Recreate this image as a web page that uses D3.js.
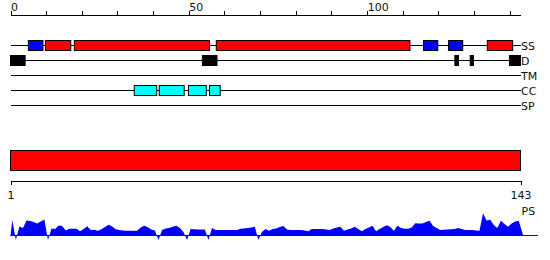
<!DOCTYPE html>
<html>
<head>
<meta charset="utf-8">
<script src="https://cdn.jsdelivr.net/npm/d3@7"></script>
<style>
  body { margin: 0; background: #fff; }
  svg { display: block; font-family: "DejaVu Sans", sans-serif; }
  .lbl { font-size: 11px; fill: #111; }
  .axis text { font-size: 11px; fill: #111; font-family: "DejaVu Sans", sans-serif; }
  .axis path, .axis line { stroke: #000; shape-rendering: crispEdges; }
</style>
</head>
<body>
<svg id="chart" width="550" height="260"></svg>
<script>
const seqLen = 143;
const topTicks = [0, 50, 100];
const trackNames = ['SS', 'D', 'TM', 'CC', 'SP'];

// [start, end, colour] in sequence units
const ssBoxes = [
  [5, 9.1, 'blue'], [9.8, 16.9, 'red'], [17.9, 55.8, 'red'], [57.7, 112, 'red'],
  [115.8, 119.8, 'blue'], [122.8, 126.8, 'blue'], [133.7, 140.8, 'red']
];
const disBoxes = [[0, 4.1], [53.8, 57.9], [124.6, 125.6], [128.9, 129.8], [139.9, 143]];
const tmBoxes = [];
const ccBoxes = [[34.7, 41], [41.7, 48.7], [49.9, 54.9], [55.8, 58.8]];
const spBoxes = [];

const psLabel = 'PS';
const psValues = [
  16, -4, 9.5, 8, 15.5, 15, 14, 12.5, 14.5, 16.5,
  -4, 7.5, 7, 10.5, 10, 5.5, 7.3, 7.3, 7.3, 4.7,
  7, 9.7, 6, 6.3, 5.3, 6.7, 9, 11.3, 9.5, 6.7,
  6, 5.5, 5.3, 5.3, 5.3, 5.3, 8.5, 10.3, 8.7, 6.5,
  5.5, -4, 6, 7.5, 8, 9.3, 10.3, 8, 4, -4,
  7, 6.7, 6.6, 6.6, 6.5, -4, 8, 6, 6, 6,
  6, 6, 6, 6, 7.3, 7.5, 8, 8.5, 9.3, -4,
  4, 7, 5.3, 7, 7.5, 9, 10, 6.5, 6, 6,
  6, 6, 5.5, 4.7, 7, 7, 7, 7, 6.5, 6,
  7.5, 8.5, 9.3, 5.3, 6.5, 7.5, 9.3, 7, 4.7, 7,
  8.5, 10.3, 4.7, 7, 9, 10.7, 9, 5.3, 10.3, 8,
  7.3, 7.3, 8.5, 12.7, 12.5, 12.5, 14, 15.3, 10, 8,
  6, 6.3, 6.5, 6.7, 7, 8, 7, 6, 6, 6,
  5.5, 5.3, 22.7, 15.5, 16.3, 11, 8, 15.3, 12, 9.3,
  12.5, 14.5, 15.3
];

const width = 550;
const svg = d3.select('#chart');

const x = d3.scaleLinear([0, seqLen], [10.5, 520.5]);

// top ruler
const topAxis = d3.axisTop(x)
  .tickValues(d3.range(0, 141, 10))
  .tickSize(4)
  .tickSizeOuter(0)
  .tickPadding(0)
  .tickFormat(d => topTicks.includes(d) ? d : '');
svg.append('g')
  .attr('class', 'axis')
  .attr('transform', 'translate(0,14.5)')
  .call(topAxis)
  .selectAll('text')
  .attr('text-anchor', 'start')
  .attr('y', -4);

// feature tracks
const ty = d3.scalePoint(trackNames, [45.5, 105.5]);
const tracks = [
  ['SS', ssBoxes.map(([s, e, c]) => ({ s, e, c: c === 'red' ? '#ff0000' : '#0000ff' }))],
  ['D', disBoxes.map(([s, e]) => ({ s, e, c: '#000' }))],
  ['TM', tmBoxes.map(([s, e]) => ({ s, e, c: '#ff00ff' }))],
  ['CC', ccBoxes.map(([s, e]) => ({ s, e, c: '#00ffff' }))],
  ['SP', spBoxes.map(([s, e]) => ({ s, e, c: '#00ff00' }))]
];

const trackG = svg.append('g')
  .selectAll('g')
  .data(tracks)
  .join('g')
  .attr('transform', d => `translate(0,${ty(d[0])})`);

trackG.append('line')
  .attr('x1', x(0))
  .attr('x2', x(seqLen))
  .attr('stroke', '#000')
  .attr('shape-rendering', 'crispEdges');

trackG.selectAll('rect')
  .data(d => d[1])
  .join('rect')
  .attr('x', d => x(d.s))
  .attr('width', d => x(d.e) - x(d.s))
  .attr('y', -5)
  .attr('height', 10)
  .attr('fill', d => d.c)
  .attr('stroke', '#000');

trackG.append('text')
  .attr('class', 'lbl')
  .attr('x', x(seqLen) + 0.5)
  .attr('y', 4)
  .text(d => d[0]);

// whole-sequence bar
svg.append('rect')
  .attr('x', x(0))
  .attr('y', 150.5)
  .attr('width', x(seqLen) - x(0))
  .attr('height', 20)
  .attr('fill', '#ff0000')
  .attr('stroke', '#000');

// residue axis
const res = d3.scaleLinear([1, seqLen], [x(0), x(seqLen)]);
svg.append('g')
  .attr('class', 'axis')
  .attr('transform', 'translate(0,180.5)')
  .call(d3.axisBottom(res).tickValues([1, seqLen]).tickSize(4).tickPadding(7));

// PS profile
const y = d3.scaleLinear([0, 20], [236, 216]);
const pts = [[0, 0], ...psValues.map((v, i) => [i + 0.5, v]), [seqLen + 0.8, 0]];

svg.append('line')
  .attr('x1', x(0))
  .attr('x2', width - 12)
  .attr('y1', 235.5)
  .attr('y2', 235.5)
  .attr('stroke', '#0000ff');

svg.append('path')
  .datum(pts)
  .attr('fill', '#0000ff')
  .attr('d', d3.area()
    .x(d => x(d[0]))
    .y0(y(0))
    .y1(d => y(d[1])));

svg.append('text')
  .attr('class', 'lbl')
  .attr('x', x(seqLen) + 1)
  .attr('y', 214.5)
  .text(psLabel);
</script>
</body>
</html>
